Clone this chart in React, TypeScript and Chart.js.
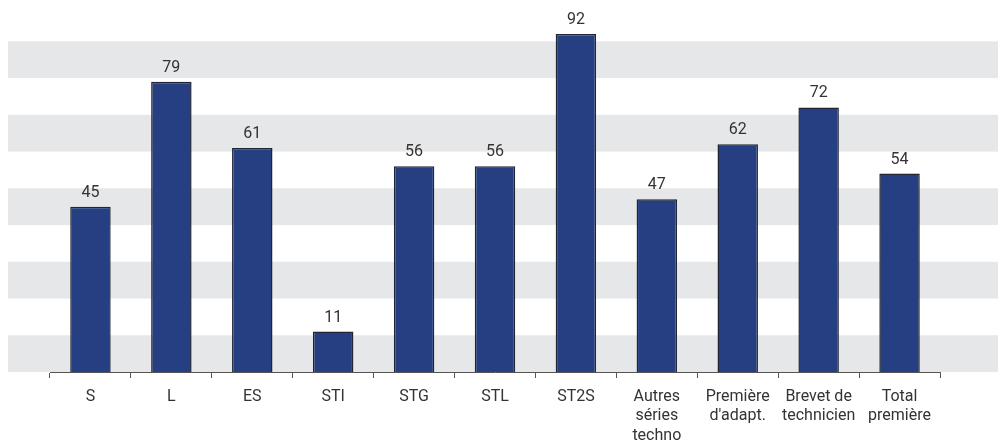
import React, { useEffect, useRef } from "react";
import { Chart, registerables } from "chart.js";

Chart.register(...registerables);

const categories: (string | string[])[] = [
  "S",
  "L",
  "ES",
  "STI",
  "STG",
  "STL",
  "ST2S",
  ["Autres", "séries", "techno"],
  ["Première", "d'adapt."],
  ["Brevet de", "technicien"],
  ["Total", "première"],
];
const values: number[] = [45, 79, 61, 11, 56, 56, 92, 47, 62, 72, 54];
const bandRanges: [number, number][] = [
  [0, 10],
  [20, 30],
  [40, 50],
  [60, 70],
  [80, 90],
];

const FONT = '"Roboto", sans-serif';
const W = 990;
const H = 437;

const bandsPlugin = {
  id: "bands",
  beforeDatasetsDraw(chart: any) {
    const { ctx, scales, width } = chart;
    const y = scales.y;
    ctx.save();
    ctx.fillStyle = "#e6e7e8";
    bandRanges.forEach(([a, b]) => {
      const y1 = y.getPixelForValue(b);
      const y0 = y.getPixelForValue(a);
      ctx.fillRect(0, y1, width, y0 - y1);
    });
    ctx.restore();
  },
};

const valueLabels = {
  id: "valueLabels",
  afterDatasetsDraw(chart: any) {
    const { ctx } = chart;
    const meta = chart.getDatasetMeta(0);
    ctx.save();
    ctx.fillStyle = "#333333";
    ctx.font = `16px ${FONT}`;
    ctx.textAlign = "center";
    ctx.textBaseline = "bottom";
    meta.data.forEach((bar: any, i: number) => {
      ctx.fillText(String(values[i]), bar.x, bar.y - 6);
    });
    ctx.restore();
  },
};

export default function App() {
  const ref = useRef<HTMLCanvasElement | null>(null);
  useEffect(() => {
    if (!ref.current) return;
    const chart = new Chart(ref.current, {
      type: "bar",
      data: {
        labels: categories,
        datasets: [
          {
            data: values,
            backgroundColor: "#253f82",
            borderColor: "#1f2533",
            borderWidth: 1.5,
            barPercentage: 0.5,
            categoryPercentage: 1,
          },
        ],
      },
      options: {
        animation: false,
        responsive: false,
        devicePixelRatio: 1,
        layout: { padding: { left: 42, right: 58, top: 15, bottom: 0 } },
        plugins: { legend: { display: false }, tooltip: { enabled: false } },
        scales: {
          x: {
            afterFit: (s: any) => {
              s.height = 73;
            },
            border: { display: true, color: "#555555", width: 1 },
            grid: {
              offset: true,
              drawOnChartArea: false,
              drawTicks: true,
              tickLength: 6,
              color: "#555555",
            },
            ticks: {
              color: "#333333",
              font: { family: FONT, size: 16, lineHeight: 1.22 },
              padding: 9,
              maxRotation: 0,
              autoSkip: false,
            },
          },
          y: {
            display: false,
            min: 0,
            max: 95,
          },
        },
      },
      plugins: [bandsPlugin, valueLabels],
    });
    return () => chart.destroy();
  }, []);
  return (
    <div style={{ position: "fixed", left: 8, top: 8, width: W, height: H, overflow: "hidden" }}>
      <canvas ref={ref} width={W} height={H} style={{ display: "block", width: W, height: H }} />
    </div>
  );
}
